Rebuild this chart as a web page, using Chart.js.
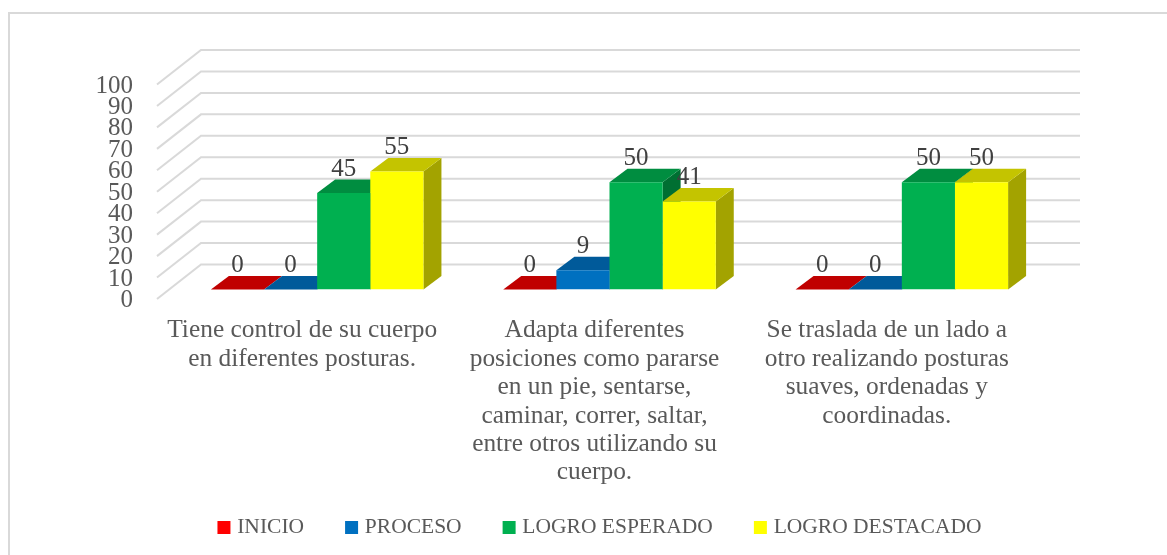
<!DOCTYPE html>
<html><head><meta charset="utf-8">
<style>html,body{margin:0;padding:0;background:#fff}#w{width:1167px;height:555px;position:relative;overflow:hidden}canvas{display:block}</style>
<script src="https://cdn.jsdelivr.net/npm/chart.js@4"></script></head>
<body><div id="w"><canvas id="c" width="1167" height="555"></canvas></div>
<script>
const categories = [
  ["Tiene control de su cuerpo","en diferentes posturas."],
  ["Adapta diferentes","posiciones como pararse","en un pie, sentarse,","caminar, correr, saltar,","entre otros utilizando su","cuerpo."],
  ["Se traslada de un lado a","otro realizando posturas","suaves, ordenadas y","coordinadas."]
];
const seriesNames = ["INICIO","PROCESO","LOGRO ESPERADO","LOGRO DESTACADO"];
const inicio = [0,0,0];
const proceso = [0,9,0];
const logroEsperado = [45,50,50];
const logroDestacado = [55,41,50];
const frontColors = ["#FF0000","#0070C0","#00B050","#FFFF00"];
const topColors = ["#C00000","#005A9A","#008D40","#C4C400"];
const sideColors = ["#A00000","#004A80","#006F32","#A3A300"];
const FONT = "'Liberation Serif'";
const barDepth = {dx:18, dy:-13.5};
const wall = {frontDx:-14, frontDy:9.5, backDx:30, backDy:-25, rightDx:32};

const threeD = {
  id:'threeD',
  afterLayout(chart){
    const x=chart.scales.x;
    x.bottom=x.top+215;
  },
  beforeDatasetsDraw(chart){
    const {ctx, scales:{y}, chartArea:a} = chart;
    ctx.save();
    ctx.strokeStyle='#D9D9D9'; ctx.lineWidth=2;
    y.ticks.forEach(t=>{
      const p=y.getPixelForValue(t.value);
      ctx.beginPath();
      ctx.moveTo(a.left+wall.frontDx,p+wall.frontDy);
      ctx.lineTo(a.left+wall.backDx,p+wall.backDy);
      ctx.lineTo(a.right+wall.rightDx,p+wall.backDy);
      ctx.stroke();
    });
    const {dx,dy}=barDepth;
    for(let c=0;c<categories.length;c++){
      chart.data.datasets.forEach((ds,i)=>{
        const b=chart.getDatasetMeta(i).data[c];
        const l=b.x-b.width/2,r=b.x+b.width/2,t=b.y,bt=b.base;
        ctx.fillStyle=sideColors[i];
        ctx.beginPath();ctx.moveTo(r,t);ctx.lineTo(r+dx,t+dy);ctx.lineTo(r+dx,bt+dy);ctx.lineTo(r,bt);ctx.closePath();ctx.fill();
        ctx.fillStyle=topColors[i];
        ctx.beginPath();ctx.moveTo(l,t);ctx.lineTo(l+dx,t+dy);ctx.lineTo(r+dx,t+dy);ctx.lineTo(r,t);ctx.closePath();ctx.fill();
      });
    }
    ctx.restore();
  },
  afterDatasetsDraw(chart){
    const {ctx}=chart;
    ctx.save();
    ctx.font="25px "+FONT;ctx.fillStyle='#404040';ctx.textAlign='center';ctx.textBaseline='middle';
    chart.data.datasets.forEach((ds,i)=>{
      chart.getDatasetMeta(i).data.forEach((b,c)=>{
        ctx.fillText(String(ds.data[c]),b.x,b.y-24);
      });
    });
    ctx.restore();
  },
  beforeDraw(chart){
    const {ctx,width,height}=chart;
    ctx.save();ctx.fillStyle='#fff';ctx.fillRect(0,0,width,height);
    ctx.strokeStyle='#D9D9D9';ctx.lineWidth=2;
    ctx.beginPath();ctx.moveTo(9,height);ctx.lineTo(9,13);ctx.lineTo(width,13);ctx.stroke();
    ctx.restore();
  }
};

new Chart(document.getElementById('c'),{
  type:'bar',
  data:{labels:categories,datasets:seriesNames.map((n,i)=>({
    label:n,
    data:[inicio,proceso,logroEsperado,logroDestacado][i],
    backgroundColor:frontColors[i],
    yAxisID:'y',
    categoryPercentage:0.727,barPercentage:1
  }))},
  options:{
    responsive:false,animation:false,
    layout:{padding:{left:36,right:0,top:75,bottom:6.75}},
    plugins:{
      tooltip:{enabled:false},
      legend:{position:'bottom',labels:{
        font:{family:FONT,size:21.5},color:'#595959',
        usePointStyle:true,pointStyle:'rect',boxWidth:5,boxHeight:13,padding:45
      }}
    },
    scales:{
      x:{
        grid:{display:false},border:{display:false},
        afterFit(s){s.height=182.25;},
        ticks:{font:{family:FONT,size:25.4,lineHeight:1.118},color:'#595959',padding:19,maxRotation:0,minRotation:0,autoSkip:false,labelOffset:-15}
      },
      y:{
        min:0,max:100,
        grid:{display:false},border:{display:false},
        afterFit(s){s.width=135;},
        ticks:{stepSize:10,autoSkip:false,font:{family:FONT,size:25},color:'#595959',padding:30,labelOffset:11}
      },
      spacer:{
        position:'right',min:0,max:100,
        grid:{display:false},border:{display:false},
        afterFit(s){s.width=119;},
        ticks:{display:false}
      }
    }
  },
  plugins:[threeD]
});
</script></body></html>
